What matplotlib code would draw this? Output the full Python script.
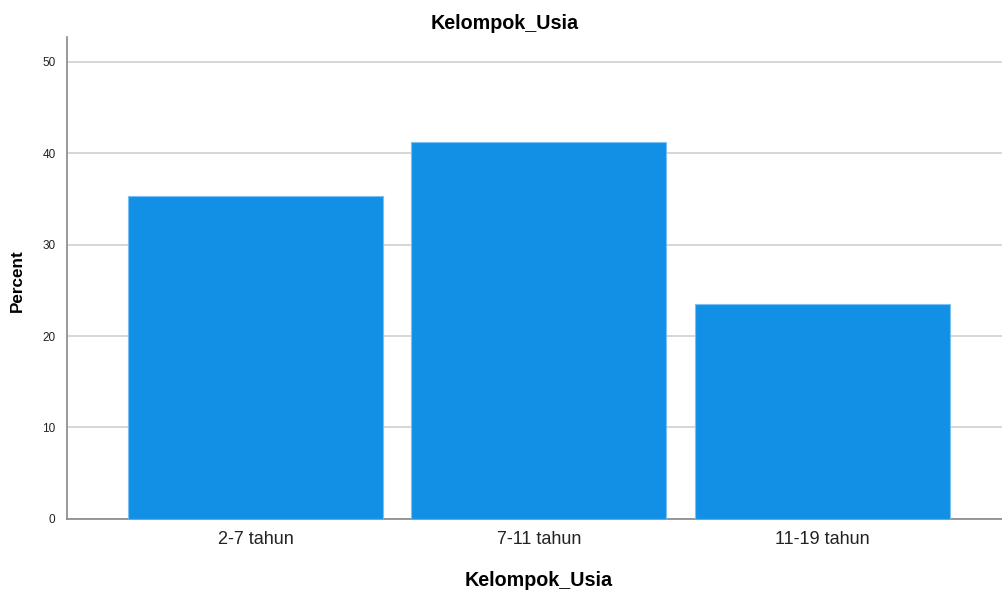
import matplotlib
matplotlib.use("Agg")
import matplotlib.pyplot as plt

plt.rcParams['font.family'] = ['Liberation Sans', 'DejaVu Sans']

categories = ['2-7 tahun', '7-11 tahun', '11-19 tahun']
percent = [35.3, 41.2, 23.5]
yticks = [0, 10, 20, 30, 40, 50]

fig = plt.figure(figsize=(10.03, 5.93), dpi=100)
ax = fig.add_axes([0.0665, 0.1253, 0.9335, 0.8118])

x = range(len(categories))
ax.bar(x, percent, width=0.9, color='#1190e6', edgecolor='#7cc0f2', linewidth=0.8, zorder=3)

ax.set_xlim(-0.667, 2.638)
ax.set_ylim(0, 52.7)
ax.set_yticks(yticks)
ax.set_xticks(list(x))
ax.set_xticklabels(categories, fontsize=13, color='#222222')
ax.tick_params(axis='y', length=0, labelsize=8.5, pad=8, colors='#222222')
ax.tick_params(axis='x', length=0, pad=9)
ax.grid(axis='y', color='#cfcfcf', linewidth=1.2, zorder=0)

for s in ['top', 'right']:
    ax.spines[s].set_visible(False)
for s in ['left', 'bottom']:
    ax.spines[s].set_color('#888888')
    ax.spines[s].set_linewidth(1.2)

ax.set_xlabel('Kelompok_Usia', fontsize=14.2, fontweight='bold', va='center')
ax.xaxis.set_label_coords(0.5044, -0.128)
ax.set_ylabel('Percent', fontsize=12.3, fontweight='bold', va='center')
ax.yaxis.set_label_coords(-0.0525, 0.494)
fig.text(0.503, 0.961, 'Kelompok_Usia', ha='center', va='center', fontsize=14.2, fontweight='bold')

fig.savefig('out.png', dpi=100)
